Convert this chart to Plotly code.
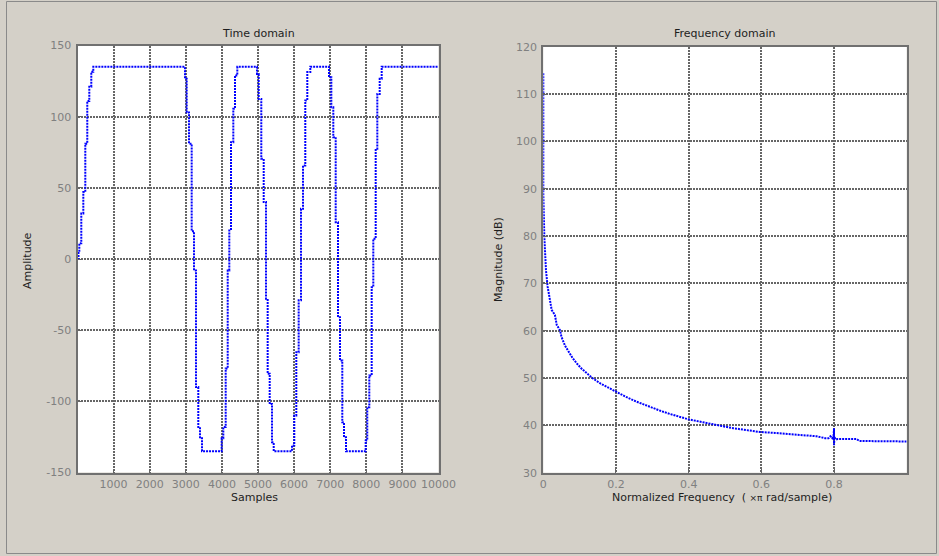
import plotly.graph_objects as go

# ---- Time domain data (sample index, amplitude) : step breakpoints
time_samples = [0, 28, 50, 105, 161, 216, 271, 327, 382, 438,
                2978, 3025, 3089, 3163, 3227, 3282, 3346, 3393, 3449,
                3994, 4039, 4105, 4161, 4205, 4252, 4316, 4363, 4427,
                4972, 5019, 5091, 5158, 5221, 5268, 5324, 5388, 5435,
                5942, 6005, 6061, 6127, 6191, 6247, 6310, 6366, 6449,
                6967, 7031, 7086, 7152, 7216, 7271, 7335, 7382, 7438,
                7983, 8027, 8083, 8149, 8194, 8260, 8305, 8371, 8426,
                10000]
time_amplitude = [0, 5, 11, 32, 47, 81, 111, 121, 131.5, 135,
                  126.6, 103, 81, 19.5, -8, -90, -118, -126, -135,
                  -126, -118, -77, -8, 21, 82, 105.5, 129, 135,
                  130, 112.5, 70.4, 40, -28, -80.7, -101.8, -128.7, -135,
                  -131, -110, -65.5, -29, 35.3, 65.7, 111.4, 131.3, 135,
                  127.7, 106.7, 85.6, 25.9, -40.9, -71.3, -114.7, -125.2, -135,
                  -127.5, -104.1, -81.9, -19.8, 14.2, 77.4, 116, 126.6, 135,
                  135]

# ---- Frequency domain data (normalized frequency, magnitude dB)
freq_norm = [0, 0, 0.0028, 0.0055, 0.0073, 0.0119, 0.0183, 0.023, 0.032, 0.037, 0.046,
             0.05, 0.06, 0.069, 0.08, 0.092, 0.105, 0.12, 0.135, 0.156, 0.178, 0.2,
             0.228, 0.257, 0.28, 0.303, 0.325, 0.349, 0.373, 0.398, 0.43, 0.468,
             0.495, 0.523, 0.56, 0.596, 0.637, 0.688, 0.752, 0.775, 0.785, 0.79,
             0.795, 0.799, 0.8, 0.8, 0.801, 0.805, 0.81, 0.862, 0.87, 1.0]
mag_db = [114.4, 89, 80, 75.5, 72.8, 69.3, 66.5, 64.4, 63.3, 61.2, 60.1,
          58.7, 56.8, 55.6, 54.3, 53.1, 52, 51, 50, 48.9, 48, 47.1,
          46, 45, 44.3, 43.6, 43, 42.4, 41.8, 41.3, 40.8, 40.3,
          39.8, 39.4, 39, 38.6, 38.4, 38.1, 37.7, 37.3, 37.3, 37.7,
          37.3, 38.0, 39.4, 35.8, 37.5, 37.0, 37.1, 37.1, 36.7, 36.6]

time_xticks = [1000, 2000, 3000, 4000, 5000, 6000, 7000, 8000, 9000, 10000]
time_xticklabels = ["1000", "2000", "3000", "4000", "5000", "6000", "7000", "8000", "9000", "10000"]
time_yticks = [-150, -100, -50, 0, 50, 100, 150]
time_yticklabels = ["-150", "-100", "-50", "0", "50", "100", "150"]
freq_xticks = [0, 0.2, 0.4, 0.6, 0.8]
freq_xticklabels = ["0", "0.2", "0.4", "0.6", "0.8"]
freq_yticks = [30, 40, 50, 60, 70, 80, 90, 100, 110, 120]

W, H = 939, 556
BG = "#d4d0c8"
GRID = "#666666"
TICKC = "#808080"
FONT = "DejaVu Sans"


def px(x):
    return x / W


def py(y):
    return 1 - y / H


fig = go.Figure()
fig.add_trace(go.Scatter(x=time_samples, y=time_amplitude, mode="lines",
                         line=dict(color="#0000ff", width=2, dash="2px,1px", shape="hv"),
                         xaxis="x", yaxis="y", showlegend=False, hoverinfo="skip"))
fig.add_trace(go.Scatter(x=freq_norm, y=mag_db, mode="lines",
                         line=dict(color="#0000ff", width=2, dash="2px,1px"),
                         xaxis="x2", yaxis="y2", showlegend=False, hoverinfo="skip"))

axis_common = dict(showgrid=True, gridcolor=GRID, gridwidth=2, griddash="2px,1px",
                   showline=True, linecolor="#707070", linewidth=2, mirror=True,
                   ticks="inside", ticklen=4, tickcolor=GRID, zeroline=False,
                   automargin=False,
                   tickfont=dict(family=FONT, size=11, color=TICKC))

fig.update_layout(
    template="none",
    width=W, height=H,
    margin=dict(l=0, r=0, t=0, b=0, pad=0, autoexpand=False),
    paper_bgcolor=BG, plot_bgcolor="#ffffff",
    xaxis=dict(domain=[px(77.5), px(438.5)], range=[0, 10000], tickvals=time_xticks,
               ticktext=time_xticklabels, anchor="y", **axis_common),
    yaxis=dict(domain=[py(472.5), py(45.5)], range=[-150, 150], tickvals=time_yticks,
               ticktext=time_yticklabels, anchor="x", ticklabelstandoff=2, **axis_common),
    xaxis2=dict(domain=[px(543.3), px(906.7)], range=[0, 1], tickvals=freq_xticks,
                ticktext=freq_xticklabels, anchor="y2", **axis_common),
    yaxis2=dict(domain=[py(472.7), py(46.7)], range=[30, 120], tickvals=freq_yticks,
                anchor="x2", ticklabelstandoff=2, **axis_common),
    shapes=[dict(type="rect", xref="paper", yref="paper",
                 x0=px(6.5), x1=px(936.5), y0=py(553.5), y1=py(1.5),
                 line=dict(color="#8a8a8a", width=1), layer="below")],
)

txt = dict(family=FONT, size=11, color="#1e1e1e")
ann = [
    dict(text="Time domain", x=px(258), y=py(33.5)),
    dict(text="Frequency domain", x=px(725), y=py(33.5)),
    dict(text="Samples", x=px(255), y=py(497)),
    dict(text="Normalized Frequency  ( <span style='font-size:9px'>×π</span> rad/sample)",
         x=px(722), y=py(497)),
    dict(text="Amplitude", x=px(27), y=py(261), textangle=-90),
    dict(text="Magnitude (dB)", x=px(498), y=py(260), textangle=-90),
]
for a in ann:
    fig.add_annotation(xref="paper", yref="paper", showarrow=False,
                       xanchor="center", yanchor="middle", font=txt, **a)

fig.write_html("out.html",
               config={"displayModeBar": False},
               post_script="document.body.style.margin='0';document.body.style.padding='0';"
                           "document.documentElement.style.overflow='hidden';")
